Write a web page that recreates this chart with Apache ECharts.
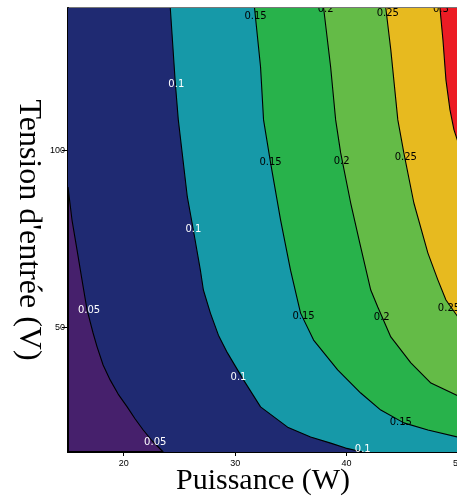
<!DOCTYPE html>
<html><head><meta charset="utf-8">
<script src="https://cdn.jsdelivr.net/npm/echarts@6/dist/echarts.min.js"></script>
<style>html,body{margin:0;padding:0;background:#fff}#c{width:457px;height:497px}</style>
</head><body><div id="c"></div>
<script>
// ---- data ----
const xRange = [15, 50];          // Puissance (W)
const yRange = [15, 140];         // Tension d'entrée (V)
const xTicks = [20, 30, 40, 50];
const yTicks = [50, 100];
const levels = [0.05, 0.1, 0.15, 0.2, 0.25, 0.3];

// contour lines as [P, V] points
const contour005 = [[15.0,89.6],[15.36,80.3],[15.81,71.9],[16.26,63.4],[16.71,55.0],[17.25,48.5],[17.61,44.6],[18.15,39.5],[18.78,35.3],[19.50,31.3],[20.31,27.7],[21.03,24.3],[21.75,21.2],[22.56,18.1],[23.55,15]];
const contour010 = [[24.18,140],[24.63,118.9],[24.90,108.5],[25.71,86.8],[26.25,77.5],[26.88,66.2],[27.15,60.6],[27.78,54.1],[28.50,47.9],[29.31,42.9],[30.75,35.3],[32.28,27.7],[34.71,22.0],[36.77,19.2],[38.57,17.5],[39.92,16.1],[41.45,15]];
const contour015 = [[31.74,140],[32.28,123.4],[32.55,108.5],[33.18,96.4],[34.08,80.3],[34.97,66.2],[35.87,54.1],[37.04,46.5],[39.20,38.1],[41.27,31.6],[43.07,26.8],[45.14,23.2],[47.30,21.2],[50,19.2]];
const contour020 = [[37.94,140],[38.57,123.4],[39.02,108.5],[39.47,99.2],[40.37,85.1],[41.27,72.7],[42.17,60.6],[42.80,55.8],[43.97,47.4],[45.77,40.1],[47.57,34.4],[50,30.8]];
const contour025 = [[43.52,140],[43.97,128.2],[44.60,108.5],[45.14,99.2],[46.04,85.1],[47.30,71.0],[48.20,63.4],[48.92,57.8],[50,53.0]];
const contour030 = [[48.38,140],[48.65,131.0],[48.92,119.7],[49.28,111.3],[49.64,105.7],[50,102.3]];

// inline contour labels: [P, V, level]
const contourLabels = [
  [31.83,137.5,0.15],[38.12,139.6,0.2],[43.70,138.6,0.25],[48.47,139.6,0.3],
  [24.72,118.6,0.1],
  [33.18,96.6,0.15],[39.56,96.9,0.2],[45.32,97.8,0.25],
  [26.25,77.8,0.1],
  [16.89,55.0,0.05],[36.14,53.3,0.15],[43.16,53.0,0.2],[49.19,55.3,0.25],
  [30.30,36.1,0.1],[44.87,23.2,0.15],[22.83,17.8,0.05],[41.45,15.8,0.1]
];

// ---- styles ----
const bandColors = ['#46206c','#1f2a72','#1699a8','#28b24b','#64bb47','#e7ba1f','#ec1c24'];
const contours = [contour005, contour010, contour015, contour020, contour025, contour030];

function closePoly(pts) {
  const out = pts.slice();
  const end = pts[pts.length - 1];
  if (end[1] <= yRange[0]) out.push([xRange[1], yRange[0]]);
  out.push([xRange[1], yRange[1]]);
  if (pts[0][0] <= xRange[0]) out.push([xRange[0], yRange[1]]);
  return out;
}

const series = [];
contours.forEach((pts, i) => {
  const poly = closePoly(pts);
  series.push({
    type: 'custom', coordinateSystem: 'cartesian2d', clip: true, silent: true, z: 1,
    data: [pts[0]],
    renderItem: (params, api) => ({
      type: 'polygon',
      shape: { points: poly.map(p => api.coord(p)) },
      style: { fill: bandColors[i + 1], stroke: null }
    })
  });
});
contours.forEach((pts) => {
  series.push({
    type: 'line', data: pts, symbol: 'none', silent: true, z: 3, clip: true,
    lineStyle: { color: '#000', width: 1.1 }
  });
});
series.push({
  type: 'custom', coordinateSystem: 'cartesian2d', clip: true, silent: true, z: 5,
  data: contourLabels.map(d => [d[0], d[1]]),
  renderItem: (params, api) => {
    const d = contourLabels[params.dataIndex];
    const p = api.coord([d[0], d[1]]);
    return {
      type: 'text', x: p[0], y: p[1],
      style: {
        text: String(d[2]), fill: d[2] <= 0.1 ? '#fff' : '#000',
        font: '10px "DejaVu Sans"', align: 'center', verticalAlign: 'middle'
      }
    };
  }
});

const chart = echarts.init(document.getElementById('c'), null, { renderer: 'canvas' });
chart.setOption({
  animation: false,
  backgroundColor: '#fff',
  grid: { left: 68, right: -1, top: 8, bottom: 45, containLabel: false, outerBoundsMode: 'none',
          show: true, backgroundColor: bandColors[0], borderColor: '#777', borderWidth: 2 },
  xAxis: {
    type: 'value', min: xRange[0], max: xRange[1],
    name: 'Puissance (W)', nameLocation: 'middle', nameGap: 14, nameMoveOverlap: false,
    nameTextStyle: { fontFamily: 'Liberation Serif', fontSize: 30, color: '#000' },
    axisLine: { onZero: false, lineStyle: { color: '#000', width: 2 } },
    axisTick: { show: true, length: 4, customValues: xTicks, lineStyle: { color: '#000' } },
    axisLabel: { customValues: xTicks, color: '#000', fontFamily: 'Liberation Sans', fontSize: 9, margin: 7 },
    splitLine: { show: false }
  },
  yAxis: {
    type: 'value', min: yRange[0], max: yRange[1],
    name: "Tension d'entrée (V)", nameLocation: 'middle', nameGap: 24, nameRotate: -90, nameMoveOverlap: false,
    nameTextStyle: { fontFamily: 'Liberation Serif', fontSize: 32, color: '#000' },
    axisLine: { onZero: false, lineStyle: { color: '#000', width: 2 } },
    axisTick: { show: true, length: 6, customValues: yTicks, lineStyle: { color: '#000' } },
    axisLabel: { customValues: yTicks, color: '#000', fontFamily: 'Liberation Sans', fontSize: 9, margin: 3 },
    splitLine: { show: false }
  },
  series: series
});
</script>
</body></html>
